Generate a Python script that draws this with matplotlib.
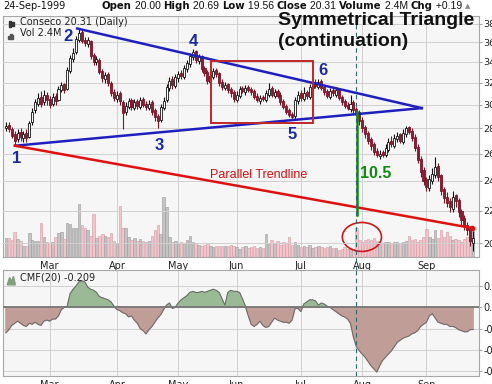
"""Conseco daily chart with symmetrical triangle annotations."""

import matplotlib
matplotlib.use("Agg")
import matplotlib.pyplot as plt
from matplotlib.patches import Rectangle, Ellipse, Polygon
from matplotlib.text import Annotation
from matplotlib.ticker import NullLocator
import numpy as np

# =============================================================================
# Data (trading days, Feb-05-1999 .. Sep-24-1999)
# =============================================================================
open_ = [28.0, 28.3, 27.9, 27.5, 27.1, 27.7, 27.2, 27.6, 27.3, 28.5,
         29.5, 30.1, 30.7, 30.2, 30.9, 30.5, 30.1, 30.8, 30.4, 31.3,
         31.9, 31.4, 33.1, 34.3, 35.0, 36.3, 37.1, 36.3, 35.8, 36.2,
         34.7, 34.0, 34.2, 33.1, 32.3, 32.8, 32.0, 31.1, 30.5, 31.0,
         30.2, 29.4, 29.8, 30.4, 29.7, 30.3, 29.8, 30.5, 30.1, 29.7,
         30.2, 29.5, 29.0, 28.7, 29.7, 30.4, 31.5, 32.3, 31.7, 32.4,
         32.9, 32.5, 33.3, 33.8, 34.5, 35.1, 34.1, 34.6, 33.4, 33.0,
         32.1, 32.5, 33.2, 32.9, 32.1, 31.5, 31.9, 31.4, 31.1, 30.4,
         30.8, 31.5, 31.1, 31.6, 31.4, 31.2, 30.8, 30.3, 30.7, 30.4,
         30.9, 31.5, 30.8, 31.2, 30.9, 30.3, 29.9, 29.5, 29.2, 29.0,
         30.3, 31.0, 30.5, 31.1, 30.7, 31.5, 32.1, 31.6, 32.2, 31.6,
         31.2, 30.7, 31.3, 30.9, 31.4, 30.7, 30.3, 30.0, 29.6, 30.2,
         29.6, 29.4, 28.7, 28.1, 27.6, 27.1, 26.7, 26.2, 25.8, 26.1,
         25.9, 26.3, 27.0, 26.6, 27.1, 27.5, 26.9, 27.5, 28.1, 27.8,
         27.3, 26.5, 25.6, 24.8, 24.1, 23.5, 24.0, 24.4, 25.1, 24.4,
         23.4, 22.9, 22.6, 22.1, 23.0, 22.7, 22.0, 21.5, 21.1, 20.9,
         20.00]
high = [28.5, 28.5, 28.1, 27.8, 27.9, 28.0, 27.8, 27.9, 28.6, 29.7,
        30.5, 31.0, 31.2, 31.3, 31.1, 30.8, 31.0, 31.0, 31.7, 32.1,
        32.0, 33.5, 34.7, 35.4, 36.7, 37.5, 37.3, 36.6, 36.6, 36.3,
        34.9, 34.6, 34.4, 33.3, 33.0, 33.0, 32.2, 31.4, 31.2, 31.2,
        30.4, 30.2, 30.6, 30.6, 30.5, 30.5, 30.7, 30.7, 30.3, 30.4,
        30.4, 29.7, 29.2, 30.1, 30.7, 31.9, 32.5, 32.6, 32.8, 33.1,
        33.2, 33.7, 34.2, 34.9, 35.3, 35.2, 34.8, 34.7, 33.6, 33.2,
        32.9, 33.4, 33.4, 33.0, 32.3, 32.1, 32.0, 31.6, 31.3, 31.2,
        31.7, 31.7, 31.8, 31.8, 31.6, 31.4, 31.0, 30.9, 30.9, 31.3,
        32.0, 31.7, 31.4, 31.4, 31.1, 30.5, 30.1, 29.7, 29.4, 30.7,
        31.2, 31.3, 31.6, 31.3, 31.9, 32.2, 32.3, 32.3, 32.3, 31.8,
        31.4, 31.5, 31.5, 31.6, 31.5, 30.9, 30.5, 30.2, 30.9, 30.4,
        29.8, 29.5, 28.9, 28.3, 27.8, 27.3, 26.9, 26.4, 26.3, 26.3,
        26.7, 27.2, 27.4, 27.5, 27.7, 27.6, 27.9, 28.2, 28.2, 28.0,
        27.5, 26.7, 25.8, 25.0, 24.3, 24.4, 24.9, 25.7, 25.3, 24.5,
        23.6, 23.2, 22.8, 23.3, 23.1, 22.8, 22.1, 21.7, 21.3, 21.0,
        20.69]
low = [27.8, 27.7, 27.2, 26.6, 26.9, 27.0, 26.9, 26.9, 27.2, 28.3,
       29.3, 29.9, 29.8, 30.0, 30.0, 29.7, 29.9, 30.0, 30.3, 31.1,
       31.0, 31.3, 32.9, 34.0, 34.8, 36.0, 35.9, 35.6, 35.5, 34.3,
       33.7, 33.7, 32.8, 32.1, 32.0, 31.7, 30.8, 30.3, 30.2, 30.0,
       27.9, 29.1, 29.6, 29.5, 29.5, 29.6, 29.6, 29.8, 29.5, 29.5,
       29.1, 28.6, 28.0, 28.5, 29.5, 30.2, 31.2, 31.4, 31.5, 32.1,
       32.3, 32.3, 33.0, 33.5, 34.2, 33.9, 33.8, 33.0, 32.6, 31.9,
       31.9, 32.3, 32.5, 31.7, 31.3, 31.3, 31.0, 30.7, 30.2, 30.2,
       30.6, 31.0, 30.9, 31.1, 30.9, 30.5, 30.2, 30.1, 30.3, 30.2,
       30.7, 30.7, 30.6, 30.6, 30.0, 29.6, 29.2, 28.9, 28.7, 28.8,
       30.1, 30.3, 30.3, 30.5, 30.5, 31.3, 31.5, 31.4, 31.3, 30.9,
       30.6, 30.5, 30.8, 30.7, 30.4, 30.0, 29.7, 29.5, 29.4, 29.3,
       29.0, 28.3, 27.7, 27.2, 26.7, 26.3, 25.9, 25.7, 25.6, 25.7,
       25.7, 26.1, 26.5, 26.4, 26.9, 26.8, 26.7, 27.3, 27.5, 27.0,
       26.2, 25.3, 24.3, 23.7, 23.3, 23.3, 23.8, 24.2, 24.0, 23.0,
       22.5, 22.2, 21.9, 21.9, 22.2, 21.6, 21.1, 20.8, 20.5, 19.8,
       19.56]
close = [28.2, 27.9, 27.4, 27.0, 27.6, 27.3, 27.5, 27.2, 28.4, 29.4,
         30.2, 30.6, 30.1, 30.9, 30.4, 30.0, 30.7, 30.3, 31.4, 31.8,
         31.3, 33.2, 34.4, 34.9, 36.4, 37.0, 36.2, 35.9, 36.3, 34.6,
         34.0, 34.3, 33.0, 32.4, 32.7, 32.0, 31.0, 30.6, 30.9, 30.3,
         29.3, 29.9, 30.3, 29.8, 30.2, 29.9, 30.4, 30.0, 29.8, 30.1,
         29.4, 28.9, 28.6, 29.8, 30.3, 31.6, 32.2, 31.8, 32.5, 32.8,
         32.6, 33.4, 33.9, 34.6, 35.0, 34.2, 34.5, 33.3, 32.9, 32.2,
         32.6, 33.1, 32.8, 32.0, 31.6, 31.8, 31.3, 31.0, 30.5, 30.9,
         31.4, 31.2, 31.5, 31.3, 31.1, 30.7, 30.4, 30.6, 30.5, 31.0,
         31.4, 30.9, 31.1, 30.8, 30.2, 29.8, 29.4, 29.1, 28.9, 30.4,
         30.9, 30.6, 31.0, 30.8, 31.6, 32.0, 31.7, 32.1, 31.5, 31.1,
         30.8, 31.2, 31.0, 31.3, 30.6, 30.2, 29.9, 29.7, 30.1, 29.5,
         29.3, 28.6, 28.0, 27.5, 27.0, 26.6, 26.1, 25.9, 26.0, 25.9,
         26.4, 26.9, 26.7, 27.2, 27.4, 27.0, 27.6, 28.0, 27.7, 27.2,
         26.4, 25.5, 24.6, 24.0, 23.6, 24.1, 24.5, 25.0, 24.3, 23.3,
         22.8, 22.5, 22.2, 22.9, 22.6, 21.9, 21.4, 21.0, 20.8, 20.1,
         20.31]
volume = [1.7, 1.7, 1.5, 2.2, 1.6, 1.4, 1.0, 1.0, 2.1, 1.5,
          1.4, 1.4, 3.0, 1.8, 1.3, 1.2, 1.3, 1.8, 2.1, 2.2,
          1.6, 3.0, 2.9, 2.6, 2.6, 4.7, 2.8, 2.6, 2.4, 1.9,
          3.8, 1.7, 1.9, 2.0, 1.9, 1.8, 2.1, 1.4, 1.2, 4.5,
          2.6, 2.6, 1.8, 1.5, 1.7, 1.4, 1.6, 1.4, 1.3, 1.4,
          1.9, 2.4, 2.8, 2.0, 5.3, 4.4, 1.8, 1.3, 1.4, 1.2,
          1.3, 1.2, 1.5, 1.9, 1.3, 1.2, 1.1, 1.0, 1.1, 1.2,
          1.0, 0.9, 1.0, 1.0, 1.0, 1.0, 1.0, 1.1, 1.0, 0.9,
          0.7, 0.9, 1.0, 0.8, 0.9, 1.0, 0.8, 0.9, 0.8, 2.0,
          1.2, 1.5, 1.2, 1.4, 1.1, 1.3, 1.2, 1.8, 1.1, 1.3,
          1.1, 0.9, 1.0, 0.9, 1.1, 0.8, 0.9, 1.0, 0.9, 0.8,
          0.9, 1.0, 0.8, 0.8, 0.6, 0.7, 0.9, 0.7, 0.8, 0.7,
          2.6, 1.5, 1.3, 1.5, 1.6, 1.5, 1.7, 1.4, 1.3, 1.2,
          1.3, 1.3, 1.2, 1.3, 1.3, 1.2, 1.3, 1.4, 1.9, 1.5,
          1.6, 1.3, 1.5, 1.8, 2.5, 1.8, 1.6, 2.4, 1.7, 2.4,
          1.8, 2.2, 1.9, 1.5, 1.6, 1.5, 1.3, 1.6, 1.8, 2.1,
          2.4]
cmf = [-0.24, -0.21, -0.17, -0.15, -0.13, -0.15, -0.17, -0.18, -0.15, -0.16,
       -0.14, -0.16, -0.17, -0.13, -0.12, -0.13, -0.11, -0.11, -0.08, -0.02,
       0.00, 0.01, 0.13, 0.17, 0.20, 0.24, 0.25, 0.24, 0.19, 0.17,
       0.16, 0.14, 0.10, 0.09, 0.08, 0.07, 0.05, 0.01, -0.02, -0.03,
       -0.05, -0.06, -0.09, -0.08, -0.12, -0.15, -0.20, -0.22, -0.25, -0.21,
       -0.18, -0.14, -0.10, -0.07, -0.02, 0.02, 0.04, -0.01, 0.00, 0.04,
       0.07, 0.09, 0.11, 0.14, 0.15, 0.14, 0.14, 0.15, 0.14, 0.15,
       0.16, 0.17, 0.16, 0.14, 0.08, 0.02, 0.14, 0.16, 0.15, 0.15,
       0.14, 0.08, 0.01, -0.08, -0.16, -0.18, -0.16, -0.13, -0.17, -0.19,
       -0.18, -0.14, -0.10, -0.12, -0.13, -0.14, -0.14, -0.15, -0.12, -0.01,
       -0.01, -0.04, 0.03, 0.05, 0.07, 0.07, 0.06, 0.02, 0.04, 0.03,
       0.01, 0.00, -0.02, -0.04, -0.06, -0.08, -0.09, -0.11, -0.15, -0.28,
       -0.37, -0.41, -0.44, -0.47, -0.51, -0.55, -0.58, -0.61, -0.55, -0.50,
       -0.47, -0.44, -0.41, -0.37, -0.33, -0.31, -0.29, -0.28, -0.27, -0.25,
       -0.24, -0.22, -0.18, -0.16, -0.14, -0.08, -0.06, -0.10, -0.14, -0.15,
       -0.16, -0.16, -0.18, -0.18, -0.19, -0.21, -0.22, -0.23, -0.23, -0.21,
       -0.209]

month_pos = [16, 39, 60, 80, 102, 123, 145]
month_labels = ["Mar", "Apr", "May", "Jun", "Jul", "Aug", "Sep"]
price_ticks = [20, 22, 24, 26, 28, 30, 32, 34, 36, 38]
cmf_ticks = [0.2, 0.0, -0.2, -0.4, -0.6]

# Pattern anchors (day index, price)
upper_line = ([25.4, 143.4], [37.5, 29.7])
lower_line = ([4.1, 143.4], [26.6, 29.7])
parallel_line = ([4.1, 160.6], [26.6, 20.9])
target_day, target_top, target_bottom = 121.1, 29.4, 21.7
breakout_day = 120.9
pivots = {"1": (4.5, 25.6), "2": (22.3, 36.6), "3": (53.4, 26.6),
          "4": (65.1, 36.15), "5": (99.0, 27.45), "6": (109.6, 33.2)}

# =============================================================================
# Figure
# =============================================================================
plt.rcParams["font.family"] = "DejaVu Sans"
plt.rcParams["axes.unicode_minus"] = False

W, H = 492, 384
fig = plt.figure(figsize=(W / 100, H / 100), dpi=100)


def rect(l, t, r, b):
    return [l / W, 1 - b / H, (r - l) / W, (b - t) / H]


def px(x, y):
    return x / W, 1 - y / H


days = np.arange(1, len(close) + 1)
o, h, l, c = map(np.array, (open_, high, low, close))
up = c >= o
grid_col = "#d0d0d0"
frame_col = "#a8a8a8"

# Volume underneath
ax_vol = fig.add_axes(rect(3, 16, 479, 257))
ax_vol.set_facecolor("#f6f6f6")
vol_col = np.where(up, "#c4c4c4", "#f2c4cc")
vol_edge = np.where(up, "#9a9a9a", "#d89aa4")
ax_vol.bar(days, volume, width=0.85, color=vol_col, edgecolor=vol_edge, linewidth=0.4)
ax_vol.set_ylim(0, 21.4)
ax_vol.set_xlim(0, 163)
ax_vol.set_yticks([])
ax_vol.set_xticks(month_pos)
ax_vol.set_xticklabels(month_labels, fontsize=7, color="#222222")
ax_vol.tick_params(axis="x", length=0, pad=3)
ax_vol.grid(axis="x", color=grid_col, linewidth=0.7)
ax_vol.set_axisbelow(True)
for s in ax_vol.spines.values():
    s.set_color(frame_col)
    s.set_linewidth(0.8)

# Price candles
ax = ax_vol.twinx()
ax.set_yscale("log")
ax.set_ylim(19.2, 38.9)
ax.set_yticks(price_ticks)
ax.set_yticklabels([str(t) for t in price_ticks])
ax.yaxis.set_minor_locator(NullLocator())
ax.tick_params(axis="y", labelsize=6.8, length=2, pad=1, color=frame_col, labelcolor="#222222")
ax.grid(axis="y", color=grid_col, linewidth=0.7)
ax.set_axisbelow(True)
for s in ax.spines.values():
    s.set_visible(False)

body_edge = np.where(up, "#111111", "#7a1428")
body_face = np.where(up, "#ffffff", "#8c1c32")
ax.vlines(days, l, h, colors=body_edge, linewidth=0.8, zorder=3)
ax.bar(days, np.maximum(np.abs(c - o), 0.06), bottom=np.minimum(o, c), width=0.7,
       color=body_face, edgecolor=body_edge, linewidth=0.6, zorder=4)

# Pattern lines
ax.plot(*upper_line, color="#1f1fbf", linewidth=1.8, zorder=5)
ax.plot(*lower_line, color="#1f1fbf", linewidth=1.8, zorder=5)
ax.plot(*parallel_line, color="#e01010", linewidth=1.8, zorder=5)
ax.plot(parallel_line[0][1], parallel_line[1][1], "o", color="#e01010", ms=3, zorder=5)
ax.plot([target_day, target_day], [target_top, target_bottom], color="#108a10",
        linewidth=1.8, zorder=5)
ax.add_patch(Rectangle((71.2, 28.4), 35.0, 34.1 - 28.4, fill=False,
                       edgecolor="#c02828", linewidth=1.4, zorder=5))
ax_vol.add_patch(Ellipse((122.9, 1.78), 13.4, 2.57, fill=False,
                         edgecolor="#d01818", linewidth=1.2, zorder=5))
ax.axvline(breakout_day, ymin=-0.054, ymax=1, clip_on=False, color="#2f6a6a",
           linewidth=0.8, linestyle=(0, (4, 3)), zorder=6)

for lbl, (x, y) in pivots.items():
    ax.text(x, y, lbl, color="#1a2aa0", fontsize=12, fontweight="bold",
            ha="center", va="center", family="Liberation Sans", zorder=7)
ax.text(70.9, 24.4, "Parallel Trendline", color="#d01010", fontsize=9,
        va="center", ha="left", family="Liberation Sans", zorder=7)
ax.text(122.3, 24.5, "10.5", color="#108a10", fontsize=11.5, fontweight="bold",
        va="center", ha="left", family="Liberation Sans", zorder=7)

# CMF panel
ax_cmf = fig.add_axes(rect(3, 270, 479, 376))
ax_cmf.set_facecolor("#f6f6f6")
cm = np.array(cmf)
ax_cmf.fill_between(days, cm, 0, where=cm >= 0, interpolate=True, color="#9aba95", zorder=2)
ax_cmf.fill_between(days, cm, 0, where=cm <= 0, interpolate=True, color="#c19d97", zorder=2)
ax_cmf.plot(days, cm, color="#6a6a6a", linewidth=0.7, zorder=3)
ax_cmf.axhline(0, color="#777777", linewidth=1.3, zorder=4)
ax_cmf.set_xlim(0, 163)
ax_cmf.set_ylim(-0.648, 0.352)
ax_cmf.set_xticks(month_pos)
ax_cmf.set_xticklabels(month_labels, fontsize=7, color="#222222")
ax_cmf.tick_params(axis="x", length=0, pad=3)
ax_cmf.yaxis.tick_right()
ax_cmf.set_yticks(cmf_ticks)
ax_cmf.set_yticklabels(["%.1f" % t for t in cmf_ticks])
ax_cmf.tick_params(axis="y", labelsize=7, length=2, pad=1, color=frame_col, labelcolor="#222222")
ax_cmf.grid(color=grid_col, linewidth=0.7)
ax_cmf.set_axisbelow(True)
for s in ax_cmf.spines.values():
    s.set_color(frame_col)
    s.set_linewidth(0.8)
ax_cmf.axvline(breakout_day, color="#2f6a6a", linewidth=0.8, linestyle=(0, (4, 3)), zorder=6)

# Legends
fig.text(*px(20, 22), "Conseco 20.31 (Daily)", fontsize=7, va="center", color="#222222")
fig.text(*px(20, 33), "Vol 2.4M", fontsize=7, va="center", color="#222222")
fig.text(*px(20, 277), "CMF(20) -0.209", fontsize=7, va="center", color="#222222")
ax.add_patch(Rectangle((0.012, 0.955), 0.004, 0.025, transform=ax.transAxes, color="#333333", zorder=7))
ax.add_patch(Rectangle((0.019, 0.958), 0.004, 0.018, transform=ax.transAxes, color="#333333", zorder=7))
for k, hh in enumerate([0.012, 0.02, 0.016]):
    ax.add_patch(Rectangle((0.011 + k * 0.004, 0.905), 0.003, hh, transform=ax.transAxes,
                           color="#555555", zorder=7))
ax_cmf.add_patch(Polygon([(0.009, 0.86), (0.014, 0.93), (0.018, 0.89), (0.022, 0.94),
                          (0.026, 0.86)], closed=True, transform=ax_cmf.transAxes,
                         color="#7f9f7b", zorder=7))

# Title (two lines, baselines placed separately)
fig.text(*px(278, 25), "Symmetrical Triangle", fontsize=14, fontweight="bold",
         family="Liberation Sans", va="baseline", ha="left", color="#111111")
fig.text(*px(278, 46), "(continuation)", fontsize=14, fontweight="bold",
         family="Liberation Sans", va="baseline", ha="left", color="#111111")

# Header line: bold labels, narrower numbers
fig.text(*px(3, 9), "24-Sep-1999", fontsize=7, va="baseline", color="#111111")
pieces = [("Open", True), (" 20.00 ", False), ("High", True), (" 20.69 ", False),
          ("Low", True), (" 19.56 ", False), ("Close", True), (" 20.31 ", False),
          ("Volume", True), (" 2.4M ", False), ("Chg", True), (" +0.19 ", False)]
prev = fig.text(*px(102, 9), pieces[0][0], fontsize=7.3, fontweight="bold",
                va="baseline", color="#111111")
for s, bold in pieces[1:]:
    prev = fig.add_artist(Annotation(
        s, xy=(1, 0), xycoords=prev, va="bottom", ha="left",
        fontsize=7.3 if bold else 7.5, fontweight="bold" if bold else "normal",
        family="DejaVu Sans" if bold else "Liberation Sans", color="#111111"))
fig.add_artist(Annotation("\u25b2", xy=(1, 0.15), xycoords=prev, va="bottom",
                          ha="left", fontsize=5, color="#888888"))

fig.savefig("out.png", dpi=100)
